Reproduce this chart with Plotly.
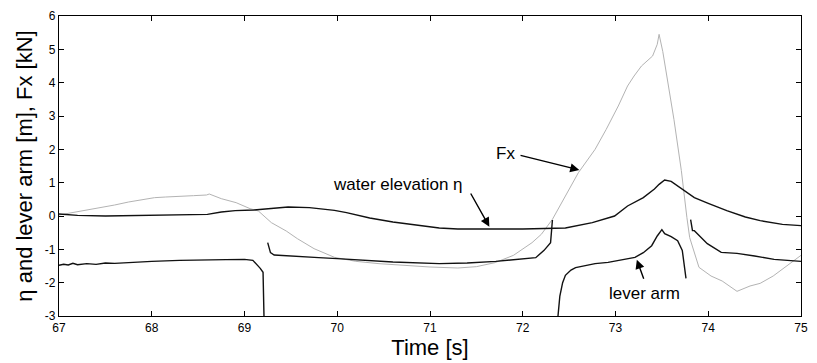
import plotly.graph_objects as go

# ---- data ----
fx_t = [67.0, 67.1, 67.25, 67.4, 67.49, 67.6, 67.75, 67.9, 68.03, 68.15, 68.3, 68.45, 68.59, 68.62, 68.75,
        68.91, 69.06, 69.15, 69.29, 69.45, 69.57, 69.75, 69.97, 70.2, 70.45, 70.7, 71.0, 71.3, 71.5,
        71.7, 71.9, 72.1, 72.2, 72.32, 72.45, 72.6, 72.78, 72.9, 73.03, 73.13, 73.2, 73.28, 73.4,
        73.45, 73.47, 73.5, 73.51, 73.63, 73.71, 73.77, 73.8, 73.9, 74.03, 74.15, 74.31, 74.45,
        74.56, 74.7, 74.85, 75.0]
fx_v = [0.03, 0.08, 0.16, 0.22, 0.28, 0.33, 0.42, 0.49, 0.55, 0.57, 0.6, 0.61, 0.63, 0.66, 0.52,
        0.4, 0.22, 0.15, -0.2, -0.45, -0.68, -0.98, -1.24, -1.36, -1.43, -1.48, -1.53, -1.56, -1.52,
        -1.4, -1.18, -0.8, -0.55, -0.1, 0.55, 1.3, 2.0, 2.6, 3.3, 3.9, 4.2, 4.5, 4.8,
        5.15, 5.45, 5.0, 4.93, 2.9, 1.36, -0.05, -0.65, -1.54, -1.8, -1.95, -2.26, -2.1,
        -2.02, -1.8, -1.5, -1.18]

eta_t = [67.0, 67.2, 67.5, 68.0, 68.6, 68.75, 68.9, 69.1, 69.3, 69.47, 69.7, 69.97, 70.1, 70.35,
         70.6, 70.86, 71.1, 71.3, 72.0, 72.46, 72.6, 72.75, 72.99, 73.13, 73.3, 73.42, 73.47,
         73.53, 73.6, 73.85, 74.0, 74.2, 74.4, 74.56, 74.8, 75.0]
eta_v = [0.06, 0.02, 0.0, 0.03, 0.05, 0.12, 0.16, 0.18, 0.24, 0.27, 0.25, 0.17, 0.1, -0.06,
         -0.18, -0.28, -0.36, -0.39, -0.39, -0.36, -0.28, -0.2, 0.0, 0.3, 0.55, 0.81, 0.95,
         1.08, 1.04, 0.55, 0.38, 0.16, -0.03, -0.14, -0.25, -0.29]

lever_t = [67.0, 67.05, 67.1, 67.15, 67.2, 67.3, 67.4, 67.5, 67.6, 67.8, 68.0, 68.3, 68.6, 68.8,
           69.0, 69.09, 69.17, 69.2, 69.21, None,
           69.25, 69.28, 69.32, 69.4, 69.5, 69.57, 69.8, 70.0, 70.29, 70.6, 71.1, 71.4, 71.71,
           72.0, 72.14, 72.23, 72.3, 72.32, None,
           72.38, 72.4, 72.43, 72.46, 72.52, 72.57, 72.78, 72.92, 73.21, 73.3, 73.39, 73.45,
           73.5, 73.53, 73.6, 73.67, 73.72, 73.74, 73.76, None,
           73.81, 73.83, 73.85, 73.9, 73.99, 74.14, 74.31, 74.5, 74.71, 75.0]
lever_v = [-1.48, -1.45, -1.47, -1.42, -1.46, -1.43, -1.45, -1.41, -1.42, -1.38, -1.36, -1.33, -1.33, -1.31,
           -1.30, -1.33, -1.57, -1.69, -3.0, None,
           -0.8, -1.1, -1.17, -1.18, -1.2, -1.21, -1.25, -1.28, -1.33, -1.38, -1.43, -1.41, -1.36,
           -1.3, -1.25, -1.03, -0.8, -0.12, None,
           -3.0, -2.4, -2.0, -1.78, -1.62, -1.55, -1.43, -1.39, -1.24, -1.1, -0.89, -0.6,
           -0.41, -0.53, -0.62, -0.74, -1.03, -1.4, -1.87, None,
           -0.11, -0.44, -0.44, -0.58, -0.83, -1.09, -1.12, -1.2, -1.3, -1.36]

x_ticks = [67, 68, 69, 70, 71, 72, 73, 74, 75]
y_ticks = [-3, -2, -1, 0, 1, 2, 3, 4, 5, 6]

FONT = "Liberation Sans, Arial, sans-serif"

fig = go.Figure()
fig.add_trace(go.Scatter(x=fx_t, y=fx_v, mode="lines", line=dict(color="#b3b3b3", width=1)))
fig.add_trace(go.Scatter(x=eta_t, y=eta_v, mode="lines", line=dict(color="#111111", width=1.4)))
fig.add_trace(go.Scatter(x=lever_t, y=lever_v, mode="lines", connectgaps=False,
                         line=dict(color="#111111", width=1.4)))

def arrow(tx, ty, hx, hy):
    fig.add_annotation(x=hx, y=hy, ax=tx, ay=ty, xref="x", yref="y", axref="x", ayref="y",
                       text="", showarrow=True, arrowhead=2, arrowsize=1.3, arrowwidth=1.4,
                       arrowcolor="#000000")

def label(x, y, text):
    fig.add_annotation(x=x, y=y, xref="x", yref="y", text=text, showarrow=False,
                       font=dict(family=FONT, size=17, color="#000000"))

label(71.81, 1.89, "Fx")
arrow(71.96, 1.83, 72.61, 1.38)
label(70.66, 0.96, "water elevation η")
arrow(71.43, 0.72, 71.64, -0.32)
label(73.31, -2.31, "lever arm")
arrow(73.31, -1.93, 73.23, -1.31)

axis_common = dict(showline=True, linecolor="#000000", linewidth=1.3, mirror="ticks",
                   ticks="inside", ticklen=5, tickcolor="#000000", tickwidth=1,
                   showgrid=False, zeroline=False,
                   tickfont=dict(family=FONT, size=12, color="#000000"))

fig.update_layout(
    width=817, height=363,
    margin=dict(l=59, r=9, t=14, b=47),
    paper_bgcolor="white", plot_bgcolor="white",
    showlegend=False,
    xaxis=dict(range=[67, 75], tickvals=x_ticks, ticktext=[str(v) for v in x_ticks],
               title=dict(text="Time [s]", font=dict(family=FONT, size=22, color="#000000"), standoff=2),
               **axis_common),
    yaxis=dict(range=[-3, 6], tickvals=y_ticks, ticktext=[str(v) for v in y_ticks],
               title=dict(text="η and lever arm [m], Fx [kN]", font=dict(family=FONT, size=22, color="#000000"), standoff=6),
               **axis_common),
)

fig.write_html("out.html", config={"displayModeBar": False},
               post_script="document.body.style.margin='0';document.body.style.overflow='hidden';")
